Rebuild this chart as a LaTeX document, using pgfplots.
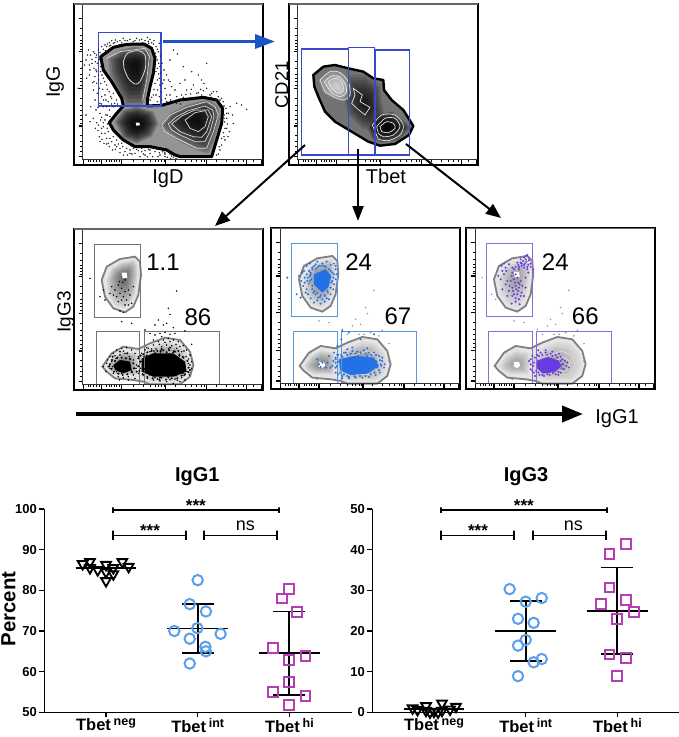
\documentclass[border=0pt]{standalone}
\usepackage{fontspec}
\setmainfont{Liberation Sans}
\usepackage{pgfplots}
\pgfplotsset{compat=1.18}
\usetikzlibrary{arrows.meta}
\definecolor{gateblue}{HTML}{3A48CC}
\definecolor{arrowblue}{HTML}{1B55C4}
\definecolor{dotblue}{HTML}{2272E6}
\definecolor{gatelblue}{HTML}{5C96D8}
\definecolor{dotpurple}{HTML}{6A3BE0}
\definecolor{gatepurple}{HTML}{9068DC}
\definecolor{circblue}{HTML}{5AA0E8}
\definecolor{sqmag}{HTML}{B93BB5}
\newcommand\fs[1]{\fontsize{#1}{#1}\selectfont}
\pgfplotsset{
 panel/.style={scale only axis,axis lines=none,xmin=0,xmax=600,ymin=0,ymax=510,y dir=reverse,width=200pt,height=170pt,anchor=south west,clip=false},
 poly/.style={forget plot,mark=none},
 dots/.style={forget plot,only marks,mark=*,mark size=0.5pt,mark options={draw=none,fill=#1},color=#1},
 dotsb/.style={forget plot,only marks,mark=*,mark size=0.8pt,mark options={draw=none,fill=#1},color=#1},
 chart/.style={scale only axis,anchor=south west,width=307.7pt,height=203.3pt,xmin=-.673,xmax=2.683,
   axis x line*=bottom,axis y line*=left,axis line style={line width=1.4pt,-},
   clip=false,xtick={0,1,2},
   xticklabels={Tbet\,\raisebox{5.5pt}{\fs{12.5}neg},Tbet\,\raisebox{5.5pt}{\fs{12.5}int},Tbet\,\raisebox{5.5pt}{\fs{12.5}hi}},
   tick style={black,line width=1.3pt},major tick length=5pt,tick align=outside,
   xticklabel style={font=\bfseries\fs{16.5},yshift=2.5pt},
   yticklabel style={font=\bfseries\fs{13},/pgf/number format/assume math mode=true,xshift=1pt},
   /pgf/number format/assume math mode=true},
 pts/.style={forget plot,only marks,mark=#1},
 bar/.style={forget plot,black,line width=1.8pt,mark=none},
}
% cx cy colour opacity {coords}
\newcommand\graded[5]{\pgfplotsinvokeforeach{0,...,9}{%
 \addplot[poly,draw=none,fill=#3,fill opacity=#4,
   x filter/.expression={#1+(x-#1)*(1-##1/10.5)},
   y filter/.expression={#2+(y-#2)*(1-##1/10.5)}] coordinates {#5} --cycle;}}
\newcommand\ruler{%
 \pgfplotsinvokeforeach{55,155,265,378,470}{\draw[black,line width=1.2pt] (axis cs:27,##1)--(axis cs:38,##1);}
 \pgfplotsinvokeforeach{85,105,120,130,140,148,185,205,222,235,245,255,295,315,330,345,358,370,405,425,440,455}{\draw[black,line width=.7pt] (axis cs:31,##1)--(axis cs:38,##1);}
 \pgfplotsinvokeforeach{40,95,155,287,410,530,575}{\draw[black,line width=1.2pt] (axis cs:##1,478)--(axis cs:##1,494);}
 \pgfplotsinvokeforeach{55,62,70,80,88,110,118,125,133,140,148,190,220,240,255,265,275,282,315,345,365,380,395,403,440,470,490,505,520,550}{\draw[black,line width=.7pt] (axis cs:##1,478)--(axis cs:##1,486);}
 \draw[black!80,line width=.7pt] (axis cs:38,15)--(axis cs:38,478)--(axis cs:575,478);
 \draw[black,line width=2pt] (axis cs:12,12) rectangle (axis cs:579,495);
 \draw[black!60,line width=1.4pt] (axis cs:12,12)--(axis cs:579,12);}
% base shapes of the three lower panels
\newcommand\lowerbase[1]{%
 \addplot[poly,draw=black!50,line width=1.8pt,fill=black!10] coordinates {(95,165)(110,125)(150,102)(195,95)(210,110)(213,150)(205,210)(190,245)(165,262)(130,250)(105,215)} --cycle;
 \graded{162}{155}{black}{#1}{(110,165)(125,130)(155,112)(192,105)(202,120)(203,150)(195,205)(182,235)(165,250)(135,240)(115,210)}
 \addplot[poly,draw=none,fill=white] coordinates {(155,143)(170,143)(172,158)(158,160)} --cycle;
 \addplot[poly,draw=black!50,line width=1.8pt,fill=black!10] coordinates {(97,425)(125,385)(160,365)(205,372)(240,355)(285,338)(330,345)(360,380)(370,420)(360,455)(330,478)(240,478)(220,470)(190,465)(135,460)(110,440)} --cycle;
 \graded{163}{420}{black}{#1}{(110,425)(130,395)(160,378)(200,385)(205,420)(198,450)(140,450)(118,438)}
 \graded{275}{420}{black}{#1}{(205,400)(240,370)(285,352)(325,358)(350,385)(358,420)(348,450)(325,468)(245,468)(215,455)}
 \addplot[poly,draw=white!85!black,line width=.8pt] coordinates {(235,385)(270,365)(315,358)(345,385)(352,420)(335,460)(260,465)(225,445)} --cycle;
 \addplot[poly,draw=white!85!black,line width=.8pt] coordinates {(255,395)(300,380)(330,395)(338,425)(320,450)(270,452)} --cycle;
 \addplot[poly,draw=white!85!black,line width=.8pt] coordinates {(275,410)(305,398)(322,412)(322,432)(300,442)(280,435)} --cycle;
 \addplot[poly,draw=none,fill=white] coordinates {(155,413)(170,413)(174,424)(165,431)(154,427)} --cycle;}
\newcommand\lowergates[1]{%
 \draw[#1,line width=.9pt] (axis cs:72,58) rectangle (axis cs:211,276);
 \draw[#1,line width=.9pt] (axis cs:79,320) rectangle (axis cs:209,478);
 \draw[#1,line width=.9pt] (axis cs:222,320) rectangle (axis cs:447,478);}
\begin{document}
\begin{tikzpicture}
\useasboundingbox (0,0) rectangle (679pt,737pt);
%================ panel IgG / IgD
\begin{axis}[panel,at={(70pt,567pt)}]
\addplot[dots=black!85] coordinates {(55,150)(62,165)(48,180)(70,155)(78,172)(58,195)(72,205)(85,150)(95,140)(105,135)(118,128)(130,130)(142,125)(155,128)(172,122)(190,125)(208,120)(225,122)(240,118)(245,128)(258,140)(265,155)(262,180)(270,200)(258,215)(268,235)(255,250)(262,270)(250,285)(240,300)(268,290)(278,250)(285,265)(300,285)(295,240)(310,305)(320,290)(310,150)(322,162)(300,180)(340,200)(365,215)(385,225)(410,190)(395,240)(370,255)(350,270)(380,280)(410,265)(430,275)(445,290)(460,305)(468,325)(475,340)(500,310)(515,315)(530,328)(490,370)(478,395)(465,420)(450,450)(445,462)(465,385)(470,355)
(80,250)(70,270)(88,265)(95,290)(75,300)(105,285)(115,305)(125,295)(100,320)(118,330)(90,340)(70,355)(60,365)(85,375)(100,380)(95,400)(110,415)(125,425)(135,435)(150,445)(165,455)(180,450)(195,460)(210,470)(225,452)(240,460)(255,455)(270,465)(285,470)(300,462)(232,470)(215,445)(190,445)(140,420)(115,395)(105,360)(120,350)(130,320)(60,210)(75,230)(92,215)(100,235)(110,255)(118,275)(130,280)(140,300)(50,235)(25,265)(35,205)
(82,190)(88,178)(92,200)(80,215)(96,225)(104,245)(112,268)(122,290)(134,310)(108,300)(98,268)(86,240)(76,185)(66,178)(58,225)(68,248)(62,320)(48,345)(78,330)(92,360)(76,385)(88,410)(102,430)(118,440)(128,450)(145,432)(158,440)(172,465)(205,452)(248,470)(262,448)(278,455)(295,452)(310,472)(110,140)(125,122)(160,115)(200,115)(232,112)(252,122)(268,130)(272,168)(276,190)(282,210)(290,225)(305,260)(330,250)(345,240)(355,295)(372,295)(395,285)(420,285)(440,275)(455,295)(462,345)(480,320)(462,410)(455,435)
(94,312)(108,345)(84,322)(100,368)(112,385)(84,392)(96,418)(110,432)(136,448)(150,458)(186,462)(220,462)(236,448)(264,470)(284,458)(302,476)(106,152)(118,138)(136,120)(148,134)(182,130)(218,128)(236,130)(256,160)(266,222)(274,276)(286,296)(302,300)(332,312)(348,284)(364,268)(392,268)(402,250)(424,292)(438,300)(464,366)(474,410)(488,345)
(74,160)(66,190)(52,165)(44,195)(80,165)(90,158)(100,148)(112,132)(122,136)(134,128)(150,122)(165,122)(180,118)(195,122)(215,118)(235,124)(250,132)(262,148)(258,170)(266,190)(262,205)(272,220)(262,240)(270,255)(252,268)(258,285)(245,292)(262,305)(275,300)(290,285)(282,240)(300,245)(315,270)(335,285)(290,305)(320,310)(340,292)(362,282)(385,278)(400,272)(425,280)(450,300)(462,318)(470,340)(462,355)(472,372)(460,398)(470,385)(448,440)(440,465)(455,415)
(78,210)(86,225)(72,245)(92,250)(82,280)(100,300)(90,310)(110,320)(125,312)(142,312)(112,345)(95,352)(80,368)(95,385)(112,372)(105,400)(90,425)(120,415)(130,410)(115,430)(140,440)(155,430)(170,445)(185,438)(200,448)(215,455)(225,465)(240,450)(255,445)(268,458)(285,462)(292,472)(305,468)(318,475)(180,460)(160,465)};
\addplot[poly,draw=black,line width=3pt,line join=round,fill=black!42] coordinates {(92,170)(130,142)(170,133)(222,132)(245,145)(255,175)(250,220)(240,260)(232,300)(232,318)(275,316)(330,300)(400,292)(440,300)(458,325)(455,370)(440,420)(425,470)(330,470)(315,465)(290,450)(240,440)(195,440)(160,420)(130,390)(118,368)(140,340)(160,318)(155,295)(125,245)(100,210)} --cycle;
\graded{198}{195}{black}{.2}{(115,175)(150,150)(195,140)(235,150)(245,180)(238,230)(225,290)(215,320)(170,320)(150,290)(120,225)}
\graded{200}{370}{black}{.22}{(135,365)(160,330)(200,320)(250,335)(265,370)(245,410)(200,430)(160,415)}
\graded{380}{358}{black}{.2}{(270,378)(300,340)(350,315)(415,298)(445,320)(450,360)(430,430)(415,460)(380,450)(320,420)}
\addplot[poly,draw=white!85!black,line width=.8pt,smooth] coordinates {(160,185)(172,160)(205,152)(225,165)(226,205)(210,245)(195,252)(175,235)(162,205)} --cycle;
\addplot[poly,draw=white!85!black,line width=.7pt] coordinates {(110,175)(150,155)(225,145)(238,170)(230,240)(218,300)} ;
\addplot[poly,draw=white!85!black,line width=.7pt] coordinates {(275,375)(300,345)(350,322)(410,305)(435,320)(445,345)(430,395)(410,445)(380,445)(320,415)(285,395)} --cycle;
\addplot[poly,draw=white!85!black,line width=.7pt] coordinates {(295,372)(320,350)(355,332)(405,318)(428,330)(432,350)(420,395)(405,425)(375,425)(330,405)(305,390)} --cycle;
\addplot[poly,draw=white!85!black,line width=.7pt] coordinates {(305,372)(335,348)(375,330)(415,330)(425,350)(410,395)(395,412)(370,410)(330,395)} --cycle;
\addplot[poly,draw=white!85!black,line width=.7pt] coordinates {(345,360)(375,338)(405,332)(415,350)(405,380)(385,395)(360,385)} --cycle;
\addplot[poly,draw=none,fill=white] coordinates {(197,368)(208,368)(210,376)(199,377)} --cycle;
\draw[gateblue,line width=1.1pt] (axis cs:85,98) rectangle (axis cs:273,318);
\ruler
\end{axis}
%================ panel CD21 / Tbet
\begin{axis}[panel,at={(285pt,567pt)}]
\addplot[poly,draw=black,line width=2.4pt,line join=round,fill=black!55] coordinates {(85,225)(115,200)(150,195)(190,205)(235,215)(265,235)(295,240)(297,270)(320,300)(355,330)(385,378)(372,405)(330,432)(285,437)(250,425)(200,395)(150,365)(120,335)(100,290)(88,260)} --cycle;
\graded{240}{310}{black}{.12}{(190,225)(240,225)(285,255)(290,300)(300,350)(270,400)(230,385)(190,345)(175,290)}
\graded{305}{380}{black}{.22}{(250,385)(275,345)(320,335)(365,370)(375,385)(340,420)(290,428)(260,415)}
\graded{157}{260}{white}{.1}{(100,240)(135,210)(170,215)(195,245)(198,285)(178,305)(145,295)(115,280)}
\addplot[poly,draw=white!90!black,line width=.7pt,smooth] coordinates {(105,240)(135,215)(165,218)(190,245)(195,285)(175,300)(145,290)(120,275)} --cycle;
\addplot[poly,draw=white!90!black,line width=.7pt,smooth] coordinates {(118,245)(140,228)(165,232)(182,255)(183,280)(165,290)(140,280)} --cycle;
\addplot[poly,draw=white!90!black,line width=.7pt,smooth] coordinates {(130,245)(150,235)(170,245)(175,270)(160,280)(140,265)} --cycle;
\addplot[poly,draw=white!90!black,line width=.7pt] coordinates {(205,265)(232,285)(225,305)(255,322)(240,345)(215,325)(200,310)(210,285)} --cycle;
\addplot[poly,draw=white!90!black,line width=.7pt,smooth] coordinates {(262,375)(290,345)(330,345)(355,375)(345,405)(310,422)(280,418)} --cycle;
\addplot[poly,draw=white!90!black,line width=.7pt,smooth] coordinates {(275,380)(300,355)(330,355)(345,380)(325,405)(295,410)(280,400)} --cycle;
\addplot[poly,draw=white!90!black,line width=.7pt,smooth] coordinates {(285,380)(305,365)(325,370)(330,385)(310,398)(290,395)} --cycle;
\draw[gateblue,line width=1.3pt] (axis cs:49,147) rectangle (axis cs:190,465);
\draw[gateblue,line width=1.3pt] (axis cs:190,143) rectangle (axis cs:268,465);
\draw[gateblue,line width=1.4pt] (axis cs:270,150) rectangle (axis cs:373,465);
\draw[gateblue,line width=1.5pt] (axis cs:49,465)--(axis cs:373,465);
\draw[gateblue,line width=1.8pt] (axis cs:269,150)--(axis cs:269,465);
\ruler
\end{axis}
%================ lower panel a
\begin{axis}[panel,at={(70pt,342pt)}]
\lowerbase{.07}
\addplot[poly,draw=none,fill=black] coordinates {(215,400)(250,385)(310,385)(345,410)(350,440)(310,455)(250,455)(215,440)} --cycle;
\addplot[poly,draw=none,fill=black] coordinates {(130,420)(150,405)(180,410)(185,435)(160,445)(135,435)} --cycle;
\addplot[dots=black] coordinates {(100,425)(110,415)(120,395)(130,385)(140,375)(155,370)(170,368)(185,375)(195,385)(205,395)(120,430)(130,445)(145,455)(160,458)(175,455)(190,450)(205,445)(125,410)(138,400)(150,390)(165,385)(178,395)(190,405)(200,420)(115,425)(128,425)(140,440)(155,445)(170,440)(185,438)(198,430)(135,392)(160,378)(112,405)(108,440)(148,465)(175,465)(195,460)
(215,385)(225,375)(235,370)(250,360)(265,350)(280,345)(295,340)(310,345)(325,350)(340,362)(350,375)(360,390)(365,410)(365,430)(358,450)(345,465)(330,470)(310,475)(290,470)(270,468)(250,465)(232,460)(220,450)(212,430)(210,410)(222,395)(240,380)(258,372)(275,365)(290,360)(305,362)(320,370)(335,380)(348,395)(355,415)(352,440)(335,458)(315,462)(295,458)(275,458)(255,458)(238,450)(225,440)(245,372)(268,358)(285,352)(300,350)(318,358)(330,365)(342,378)(356,402)(360,420)(342,452)(322,466)(300,464)(262,462)(230,368)(252,378)(272,376)(296,372)(312,378)(328,388)(338,395)
(225,315)(240,325)(255,330)(270,325)(285,322)(300,328)(315,325)(345,318)(265,285)(255,300)(280,300)(295,250)(300,268)(320,198)(310,308)(290,295)(365,358)(155,290)(185,295)(275,335)(250,345)
(125,185)(135,195)(145,180)(155,190)(165,200)(150,205)(140,215)(160,215)(175,195)(180,210)(170,225)(155,225)(145,230)(185,235)(165,240)(130,210)(100,195)(90,215)(105,225)(175,240)(158,172)(165,165)(150,258)(160,262)(60,160)(190,185)(120,205)(148,170)};
\addplot[dotsb=black] coordinates {(205,400)(212,392)(220,388)(232,382)(245,378)(262,378)(280,376)(298,376)(315,380)(328,392)(340,398)(352,408)(356,428)(356,442)(345,448)(335,452)(322,460)(305,460)(288,464)(268,464)(248,460)(232,456)(218,448)(208,438)(205,424)(212,410)(230,392)(255,385)(272,380)(290,382)(310,382)(325,400)(345,425)(338,445)(318,452)(295,456)(270,458)(250,452)(225,432)(120,418)(126,405)(135,408)(142,398)(155,398)(168,400)(180,402)(190,415)(192,430)(186,442)(172,448)(158,450)(145,446)(132,440)(125,432)(118,424)(128,395)(150,380)(172,385)(200,440)(230,400)(240,392)(275,372)(300,368)(325,378)(360,435)};
\lowergates{black!55}
\ruler
\end{axis}
%================ lower panel b
\begin{axis}[panel,at={(267.3pt,342.7pt)}]
\lowerbase{.05}
\addplot[poly,draw=none,fill=dotblue] coordinates {(215,405)(260,395)(320,400)(335,425)(300,448)(250,452)(218,438)} --cycle;
\addplot[poly,draw=none,fill=dotblue] coordinates {(140,150)(175,135)(192,155)(183,190)(165,205)(140,180)} --cycle;
\addplot[dots=black!45] coordinates {(155,290)(185,295)(225,315)(255,305)(265,285)(280,300)(295,250)(300,268)(320,198)(310,325)(345,318)(290,330)(240,330)(275,330)(335,335)(365,358)(60,160)(100,420)(115,445)(130,385)(150,465)(365,410)(150,258)(165,260)};
\addplot[dotsb=dotblue] coordinates {(110,140)(118,125)(128,118)(140,125)(150,112)(165,118)(178,112)(190,122)(200,118)(205,135)(208,150)(205,165)(200,180)(198,195)(190,210)(185,225)(172,232)(160,238)(150,228)(140,235)(130,222)(122,210)(118,195)(108,185)(102,170)(95,155)(60,160)(112,160)(125,140)(132,165)(125,178)(135,195)(145,210)(158,218)(172,215)(180,200)(195,170)(190,140)(170,125)(145,135)(100,220)(88,210)(130,150)(135,130)
(155,420)(165,415)(150,405)(175,430)(185,395)(195,425)(200,385)(205,405)(205,445)(210,365)(225,320)(222,345)(230,385)(240,375)(255,380)(270,382)(290,378)(305,385)(320,385)(335,395)(345,410)(350,430)(338,445)(325,452)(305,458)(285,460)(265,460)(245,462)(225,455)(212,450)(205,430)(340,420)(328,412)(240,392)(210,392)(225,462)(255,370)(300,372)(320,330)(245,325)(280,345)
(205,400)(212,392)(222,392)(235,385)(250,388)(265,388)(280,385)(296,388)(312,392)(326,392)(338,408)(342,425)(335,438)(322,445)(310,450)(295,455)(278,455)(262,456)(245,458)(230,450)(218,445)(208,425)(212,412)(225,398)(300,395)(330,430)(315,410)(272,395)(240,455)(205,415)(198,410)(190,430)(180,415)(160,428)(345,400)(352,420)
(130,145)(135,135)(150,130)(162,125)(175,128)(185,135)(195,145)(198,160)(192,175)(190,190)(182,205)(172,212)(160,212)(150,205)(142,200)(135,185)(128,170)(122,160)(128,155)(118,150)(120,170)(112,175)(138,205)(152,220)(165,225)(178,222)(200,150)(205,125)(145,120)(155,125)(115,205)(105,145)};
\lowergates{gatelblue}
\ruler
\end{axis}
%================ lower panel c
\begin{axis}[panel,at={(462.3pt,342.7pt)}]
\lowerbase{.035}
\addplot[poly,draw=none,fill=dotpurple] coordinates {(225,408)(258,398)(288,408)(298,425)(278,443)(242,448)(224,432)} --cycle;
\addplot[dots=black!45] coordinates {(155,290)(185,295)(225,315)(255,305)(265,285)(280,300)(295,250)(300,268)(320,198)(310,325)(345,318)(290,330)(240,330)(275,330)(335,335)(365,358)(60,160)(100,420)(115,445)(130,385)(150,465)(365,410)(150,258)(165,260)(88,210)(100,225)};
\addplot[dotsb=dotpurple] coordinates {(195,92)(200,100)(190,105)(182,110)(175,115)(188,118)(198,122)(205,128)(212,135)(178,125)(168,122)(185,130)(195,135)(170,135)(160,128)(150,130)(140,120)(125,118)(118,125)(132,140)(150,145)(160,150)(165,160)(155,165)(145,170)(175,170)(180,185)(170,190)(160,185)(150,190)(140,200)(130,180)(115,165)(108,155)(120,195)(135,215)(150,215)(165,210)(178,205)(170,225)(160,232)(148,238)(172,240)(185,215)(190,190)(190,160)(198,145)
(205,405)(210,395)(212,425)(215,445)(225,392)(235,385)(250,385)(265,388)(280,392)(295,398)(308,410)(312,425)(305,435)(295,445)(280,450)(262,452)(245,455)(232,452)(218,455)(205,420)(228,378)(250,378)(300,420)(270,382)(300,405)(288,452)
(185,100)(192,112)(178,118)(200,108)(205,118)(195,128)(185,122)(170,128)(165,115)(175,105)(190,95)(155,135)(148,155)(168,175)(158,175)(172,180)(162,195)(152,200)(168,200)(175,215)(160,222)(155,210)(142,185)(135,170)(125,150)(130,130)(120,140)
(218,400)(215,415)(222,440)(230,395)(240,392)(255,392)(270,395)(285,400)(295,410)(302,420)(298,432)(288,442)(272,447)(255,450)(240,452)(228,445)(290,388)(315,415)(320,430)(210,440)(205,435)(200,410)};
\lowergates{gatepurple}
\ruler
\end{axis}
%================ arrows
\begin{axis}[scale only axis,axis lines=none,xmin=0,xmax=679,ymin=0,ymax=737,y dir=reverse,width=679pt,height=737pt,at={(0pt,0pt)},anchor=south west]
\addplot[poly,arrowblue,line width=3.4pt,-{Triangle[length=20pt,width=14pt]}] coordinates {(163,41.5)(275,41.5)};
\addplot[poly,black,line width=2pt,-{Triangle[length=15pt,width=12pt]}] coordinates {(305,145)(215,226)};
\addplot[poly,black,line width=2pt,-{Triangle[length=15pt,width=11pt]}] coordinates {(358,149)(358,221)};
\addplot[poly,black,line width=2pt,-{Triangle[length=15pt,width=12pt]}] coordinates {(406,144)(501,218)};
\addplot[poly,black,line width=3.8pt,-{Triangle[length=21pt,width=16pt]}] coordinates {(76,414)(583,414)};
\end{axis}
%================ IgG1 chart
\begin{axis}[chart,at={(44.3pt,24.7pt)},ymin=50,ymax=100,ytick={50,60,70,80,90,100}]
\addplot[pts=triangle,black,mark size=5.6pt,mark options={rotate=180,line width=1.9pt}] coordinates {(-.255,86.5)(-.175,87)(0,86.3)(.178,87)(.247,85.8)(-.175,85.5)(-.09,85)(.08,85.5)(0,84.5)(.08,84)(0,82.3)};
\addplot[pts=o,circblue,mark size=5.2pt,mark options={line width=2pt}] coordinates {(1,82.5)(.913,76.6)(1.09,74.8)(.745,70)(.996,70.7)(1.25,69.3)(.913,68.1)(1.084,66.1)(1.09,65)(.913,62)};
\addplot[pts=square,sqmag,mark size=4.9pt,mark options={line width=2pt}] coordinates {(2,80.3)(1.916,78)(2.08,74.7)(1.825,65.8)(2.175,63.9)(2,62.9)(2,57.5)(1.825,55)(2.175,54)(2,51.8)};
\addplot[bar] coordinates {(-.33,85.5)(.33,85.5)};
\addplot[bar] coordinates {(.67,70.6)(1.33,70.6)};
\addplot[bar] coordinates {(.825,76.7)(1.175,76.7)};
\addplot[bar] coordinates {(.825,64.6)(1.175,64.6)};
\addplot[bar] coordinates {(1,76.7)(1,64.6)};
\addplot[bar] coordinates {(1.67,64.5)(2.33,64.5)};
\addplot[bar] coordinates {(1.825,74.8)(2.175,74.8)};
\addplot[bar] coordinates {(1.825,54.2)(2.175,54.2)};
\addplot[bar] coordinates {(2,74.8)(2,54.2)};
\addplot[bar] coordinates {(.073,98.9)(.073,100.4)(.073,99.67)(1.884,99.67)(1.884,100.4)(1.884,98.9)};
\addplot[bar] coordinates {(.08,92.3)(.08,94.7)(.08,93.5)(.873,93.5)(.873,94.7)(.873,92.3)};
\addplot[bar] coordinates {(1.073,92.3)(1.073,94.7)(1.073,93.5)(1.869,93.5)(1.869,94.7)(1.869,92.3)};
\node[font=\bfseries\fs{17}] at (axis cs:.98,100.8) {***};
\node[font=\bfseries\fs{17}] at (axis cs:.48,94.7) {***};
\node[font=\fs{18}] at (axis cs:1.52,95.8) {ns};
\end{axis}
%================ IgG3 chart
\begin{axis}[chart,at={(372.3pt,24.7pt)},ymin=0,ymax=50,ytick={0,10,20,30,40,50}]
\addplot[pts=triangle,black,mark size=5.6pt,mark options={rotate=180,line width=1.9pt}] coordinates {(-.233,1)(-.087,1.55)(.087,2.2)(.24,1.4)(-.18,.6)(-.087,.4)(0,.16)(.087,.4)(.175,.74)(-.044,0)(.044,0)};
\addplot[pts=o,circblue,mark size=5.2pt,mark options={line width=2pt}] coordinates {(.825,30.3)(1,27.2)(1.175,28.1)(.916,23)(1.087,22)(1,17.8)(.916,16.4)(1.175,13.1)(1.087,12.3)(.916,8.9)};
\addplot[pts=square,sqmag,mark size=4.9pt,mark options={line width=2pt}] coordinates {(2.09,41.4)(1.913,39)(1.913,30.7)(2.09,27.7)(1.825,26.7)(2.178,24.7)(2,23)(1.913,14.2)(2.09,13.3)(2,8.9)};
\addplot[bar] coordinates {(-.33,.8)(.33,.8)};
\addplot[bar] coordinates {(.67,19.9)(1.33,19.9)};
\addplot[bar] coordinates {(.825,27.3)(1.175,27.3)};
\addplot[bar] coordinates {(.825,12.6)(1.175,12.6)};
\addplot[bar] coordinates {(1,27.3)(1,12.6)};
\addplot[bar] coordinates {(1.67,25)(2.33,25)};
\addplot[bar] coordinates {(1.825,35.6)(2.175,35.6)};
\addplot[bar] coordinates {(1.825,14.4)(2.175,14.4)};
\addplot[bar] coordinates {(2,35.6)(2,14.4)};
\addplot[bar] coordinates {(.076,48.9)(.076,50.4)(.076,49.67)(1.884,49.67)(1.884,50.4)(1.884,48.9)};
\addplot[bar] coordinates {(.08,42.3)(.08,44.7)(.08,43.5)(.876,43.5)(.876,44.7)(.876,42.3)};
\addplot[bar] coordinates {(1.076,42.3)(1.076,44.7)(1.076,43.5)(1.873,43.5)(1.873,44.7)(1.873,42.3)};
\node[font=\bfseries\fs{17}] at (axis cs:.98,50.8) {***};
\node[font=\bfseries\fs{17}] at (axis cs:.48,44.7) {***};
\node[font=\fs{18}] at (axis cs:1.52,45.8) {ns};
\end{axis}
%================ texts, pixel coordinates
\begin{scope}[x=1pt,y=-1pt,yshift=737pt]
\node[rotate=90,font=\fs{19.5}] at (55,82) {IgG};
\node[font=\fs{20}] at (168,179) {IgD};
\node[rotate=90,font=\fs{18.5}] at (281.7,85) {CD21};
\node[font=\fs{20}] at (386,176) {Tbet};
\node[rotate=90,font=\fs{19}] at (66,312) {IgG3};
\node[font=\fs{20}] at (617,419) {IgG1};
\node[font=\fs{24}] at (163,262) {1.1};
\node[font=\fs{24}] at (198,317) {86};
\node[font=\fs{24}] at (358.7,262) {24};
\node[font=\fs{24}] at (398,316) {67};
\node[font=\fs{24}] at (555.3,262) {24};
\node[font=\fs{24}] at (585.3,316) {66};
\node[font=\bfseries\fs{20}] at (197.3,477) {IgG1};
\node[font=\bfseries\fs{20}] at (526,477) {IgG3};
\node[rotate=90,font=\bfseries\fs{20.4}] at (8.5,609) {Percent};
\end{scope}
\end{tikzpicture}
\end{document}
